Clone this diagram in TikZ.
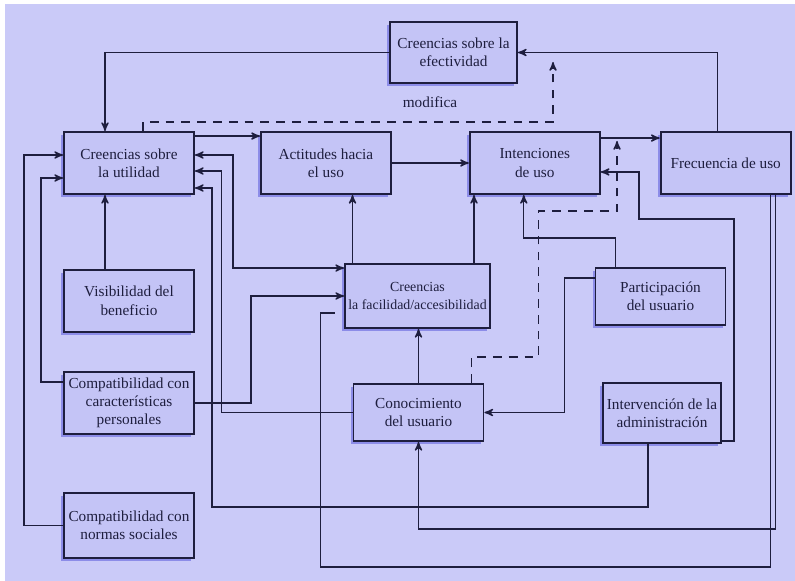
\documentclass[tikz,border=0pt]{standalone}
\usepackage{fontspec}
\setmainfont{Liberation Serif}
\usepackage{tikz}
\usetikzlibrary{arrows,positioning,shadows}
\definecolor{fondo}{RGB}{202,202,248}
\definecolor{caja}{RGB}{196,196,246}
\definecolor{sombra}{RGB}{125,125,228}
\definecolor{tinta}{RGB}{30,30,62}
\tikzset{
  every picture/.style = {
    thick,
    >=stealth',
    node distance = 1.3cm and 1.3cm,
  }
  ,
  factor/.style = {
    rectangle,
    draw = tinta,
    line width = 1.1pt,
    fill = caja,
    drop shadow = {shadow xshift=-1.6pt, shadow yshift=-1.6pt, fill=sombra, opacity=0.8},
    text = tinta,
    font = \fontsize{8.7}{10.5}\selectfont,
    align = center,
    minimum width = 2.6cm,
    minimum height = 1.24cm,
    inner sep = 2pt
  }
  , % connectors
  link/.style = {
    draw = tinta,
    line width = 0.8pt
  }
  ,
  link-mod/.style = {
    link,
    dash pattern = on 5pt off 4pt
  }
  , % label of the dashed path
  label-mod/.style = {
    font = \fontsize{8.7}{10.5}\selectfont,
    text = tinta
  }
}

\begin{document}
\begin{tikzpicture}[x=0.02cm, y=-0.02cm]
\useasboundingbox (0,0) rectangle (795,581);
\fill[white] (0,0) rectangle (795,581);
\fill[fondo] (5,4) rectangle (795,581);

% top row
\node [factor] (util) at (129,163) {Creencias sobre\\la utilidad};
\node [factor, right = 1.3cm of util] (actit) {Actitudes hacia\\el uso};
\node [factor, right = 1.54cm of actit] (intenc) {Intenciones\\de uso};
\node [factor, right = 1.18cm of intenc] (frec) {Frecuencia de uso};
\node [factor, minimum width = 2.54cm, minimum height = 1.22cm] (efect) at (453.5,52.5) {Creencias sobre la\\efectividad};
\node [label-mod] (mod) at (430,102) {modifica};

% left column
\node [factor, below = 1.48cm of util] (visib) {Visibilidad del\\beneficio};
\node [factor, below = 0.76cm of visib] (caract) {Compatibilidad con\\características\\personales};
\node [factor, below = 1.14cm of caract, minimum height = 1.3cm] (normas) {Compatibilidad con\\normas sociales};

% middle
\node [factor, minimum width = 2.9cm, minimum height = 1.28cm, inner xsep = 1pt, font = \fontsize{7.9}{10}\selectfont] (facil) at (417.5,296) {Creencias\\la facilidad/accesibilidad};
\node [factor, minimum height = 1.14cm] (partic) at (660.5,296.5) {Participación\\del usuario};
\node [factor, minimum height = 1.14cm] (conoc) at (418.5,412.5) {Conocimiento\\del usuario};
\node [factor, minimum width = 2.36cm, minimum height = 1.2cm] (interv) at (662,413) {Intervención de la\\administración};

\coordinate (mod-tip) at (553,62);
\coordinate (tie) at (617,141);

% upper loop
\draw[link, ->] (efect.west) -| ([xshift=-0.48cm]util.north);
\draw[link, ->] ([xshift=-0.16cm]frec.north) |- (efect.east);
\draw[link-mod, ->] ([xshift=0.28cm]util.north) -- ++(0,-9) -| (mod-tip);

% main chain
\draw[link, ->] ([yshift=-0.1cm]util.north east) -- ([yshift=-0.1cm]actit.north west);
\draw[link, ->] (actit.east) -- (intenc.west);
\draw[link, ->] ([yshift=-0.14cm]intenc.north east) -- ([yshift=-0.14cm]frec.north west);

% into utilidad
\draw[link, ->] ([xshift=-0.48cm]visib.north) -- ([xshift=-0.48cm]util.south);
\draw[link, ->] (normas.west) -- ++(-39,0) |- ([yshift=0.16cm]util.west);
\draw[link, ->] ([yshift=-0.22cm]caract.north west) -- ++(-22,0) |- ([yshift=-0.3cm]util.west);
\draw[link, <->] ([yshift=0.16cm]util.east) -- ++(38,0) |- ([yshift=-0.1cm]facil.north west);
\draw[link, ->] (conoc.west) -- ++(-131,0) |- ([yshift=-0.16cm]util.east);
\draw[link, ->] ([xshift=-0.28cm]interv.south) -- ++(0,63) -- ++(-436,0) |- ([yshift=-0.5cm]util.east);

% feedback of frecuencia
\draw[link, ->] ([xshift=1cm]frec.south) -- ++(0,334) -| (conoc.south);
\draw[link, shorten >=0.18cm] ([xshift=0.9cm]frec.south) -- ++(0,372) -- ++(-450,0) |- ([yshift=-0.34cm]facil.west);

% facilidad and the rest
\draw[link, ->] (caract.east) -- ++(56,0) |- (facil.west);
\draw[link, ->] ([xshift=-1.3cm]facil.north) -- ([xshift=-1.3cm]facil.north |- actit.south);
\draw[link, ->] ([xshift=1.13cm]facil.north) -- ([xshift=1.13cm]facil.north |- intenc.south);
\draw[link, ->] (conoc.north) -- (conoc.north |- facil.south);
\draw[link, ->] ([xshift=-0.9cm]partic.north) -- ++(0,-29) -| ([xshift=-0.22cm]intenc.south);
\draw[link, ->] ([yshift=-0.22cm]partic.north west) -- ++(-30,0) |- (conoc.east);
\draw[link, ->] ([yshift=0.06cm]interv.south east) -- ++(12,0) -- ++(0,-222) -- ++(-95,0) |- ([yshift=-0.18cm]intenc.east);
\draw[link-mod, ->] ([xshift=1.06cm]conoc.north) -- ++(0,-26) -| ++(67,-146) -| (tie);
\end{tikzpicture}
\end{document}
